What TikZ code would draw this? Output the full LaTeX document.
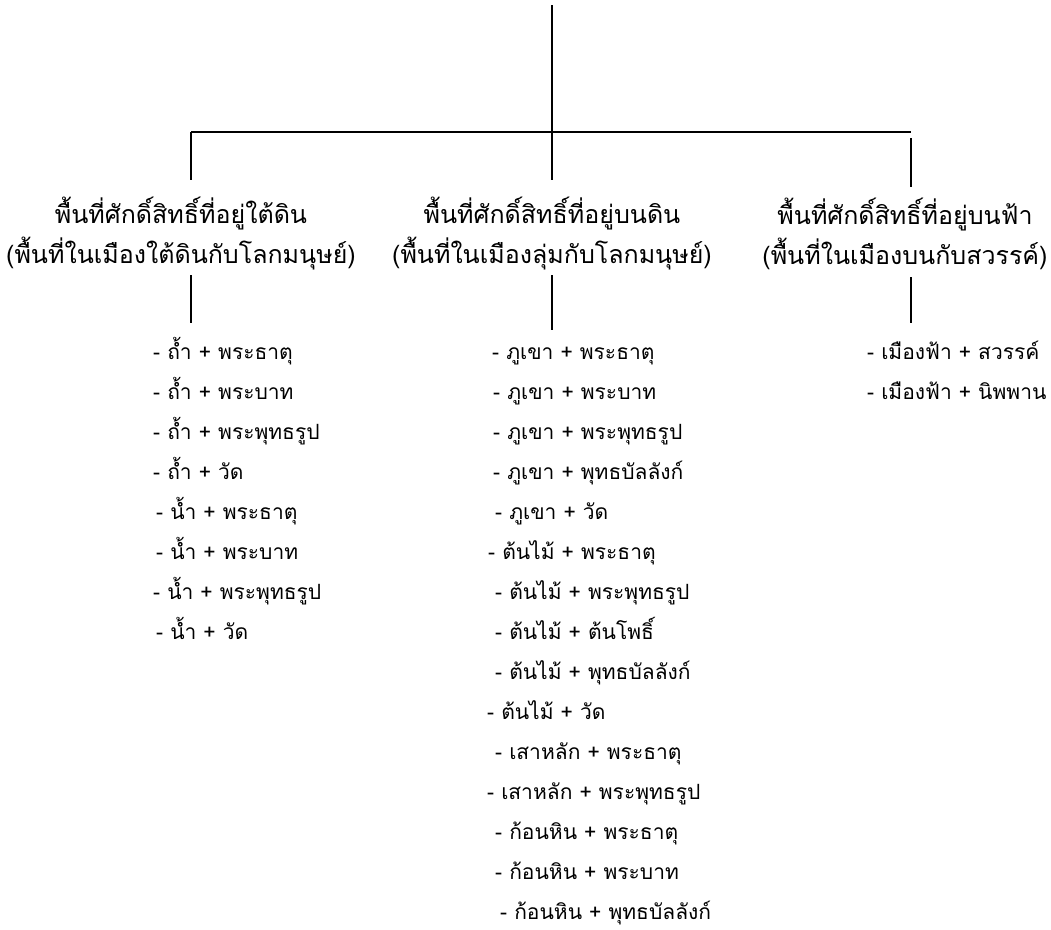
\documentclass[tikz,border=0pt]{standalone}
\usepackage{fontspec}
\newfontfamily\thaifont[Script=Thai]{Loma}
\begin{document}
\begin{tikzpicture}[x=1pt,y=-1pt,
  conn/.style={line width=1.3pt,black},
  ttl/.style={font=\thaifont\fontsize{25}{40}\selectfont,align=center,inner sep=0pt},
  itm/.style={font=\thaifont\fontsize{21}{24}\selectfont,anchor=base west,inner sep=0pt}]
\useasboundingbox (0,0) rectangle (1051,929);
% junction points
\coordinate (top) at (552,5);
\coordinate (jm) at (552,132);
\coordinate (jl) at (191,132);
\coordinate (jr) at (911,132);
\coordinate (l1) at (191,180);
\coordinate (m1) at (552,180);
\coordinate (r0) at (911,138);
\coordinate (r1) at (911,187);
\coordinate (l2) at (191,275);
\coordinate (l3) at (191,323);
\coordinate (m2) at (552,275);
\coordinate (m3) at (552,330);
\coordinate (r2) at (911,277);
\coordinate (r3) at (911,323);
% titles
\node[ttl] (tl) at (181,234) {พื้นที่ศักดิ์สิทธิ์ที่อยู่ใต้ดิน\\(พื้นที่ในเมืองใต้ดินกับโลกมนุษย์)};
\node[ttl] (tm) at (552,234) {พื้นที่ศักดิ์สิทธิ์ที่อยู่บนดิน\\(พื้นที่ในเมืองลุ่มกับโลกมนุษย์)};
\node[ttl] (tr) at (905,234) {พื้นที่ศักดิ์สิทธิ์ที่อยู่บนฟ้า\\(พื้นที่ในเมืองบนกับสวรรค์)};
% connectors
\draw[conn] (top) -- (jm);
\draw[conn] (jl) -- (jr);
\draw[conn] (jl) -- (l1);
\draw[conn] (jm) -- (m1);
\draw[conn] (r0) -- (r1);
\draw[conn] (l2) -- (l3);
\draw[conn] (m2) -- (m3);
\draw[conn] (r2) -- (r3);
% left list
\node[itm] (a1) at (153,359) {- ถ้ำ + พระธาตุ};
\node[itm] (a2) at (153,399) {- ถ้ำ + พระบาท};
\node[itm] (a3) at (153,439) {- ถ้ำ + พระพุทธรูป};
\node[itm] (a4) at (153,479) {- ถ้ำ + วัด};
\node[itm] (a5) at (156,519) {- น้ำ + พระธาตุ};
\node[itm] (a6) at (156,559) {- น้ำ + พระบาท};
\node[itm] (a7) at (153,599) {- น้ำ + พระพุทธรูป};
\node[itm] (a8) at (156,639) {- น้ำ + วัด};
% middle list
\node[itm] (b1) at (492,359) {- ภูเขา + พระธาตุ};
\node[itm] (b2) at (493,399) {- ภูเขา + พระบาท};
\node[itm] (b3) at (493,439) {- ภูเขา + พระพุทธรูป};
\node[itm] (b4) at (493,479) {- ภูเขา + พุทธบัลลังก์};
\node[itm] (b5) at (495,519) {- ภูเขา + วัด};
\node[itm] (b6) at (488,559) {- ต้นไม้ + พระธาตุ};
\node[itm] (b7) at (495,599) {- ต้นไม้ + พระพุทธรูป};
\node[itm] (b8) at (495,639) {- ต้นไม้ + ต้นโพธิ์};
\node[itm] (b9) at (495,679) {- ต้นไม้ + พุทธบัลลังก์};
\node[itm] (b10) at (487,719) {- ต้นไม้ + วัด};
\node[itm] (b11) at (495,759) {- เสาหลัก + พระธาตุ};
\node[itm] (b12) at (487,799) {- เสาหลัก + พระพุทธรูป};
\node[itm] (b13) at (495,839) {- ก้อนหิน + พระธาตุ};
\node[itm] (b14) at (495,879) {- ก้อนหิน + พระบาท};
\node[itm] (b15) at (500,919) {- ก้อนหิน + พุทธบัลลังก์};
% right list
\node[itm] (c1) at (867,359) {- เมืองฟ้า + สวรรค์};
\node[itm] (c2) at (867,399) {- เมืองฟ้า + นิพพาน};
\end{tikzpicture}
\end{document}
